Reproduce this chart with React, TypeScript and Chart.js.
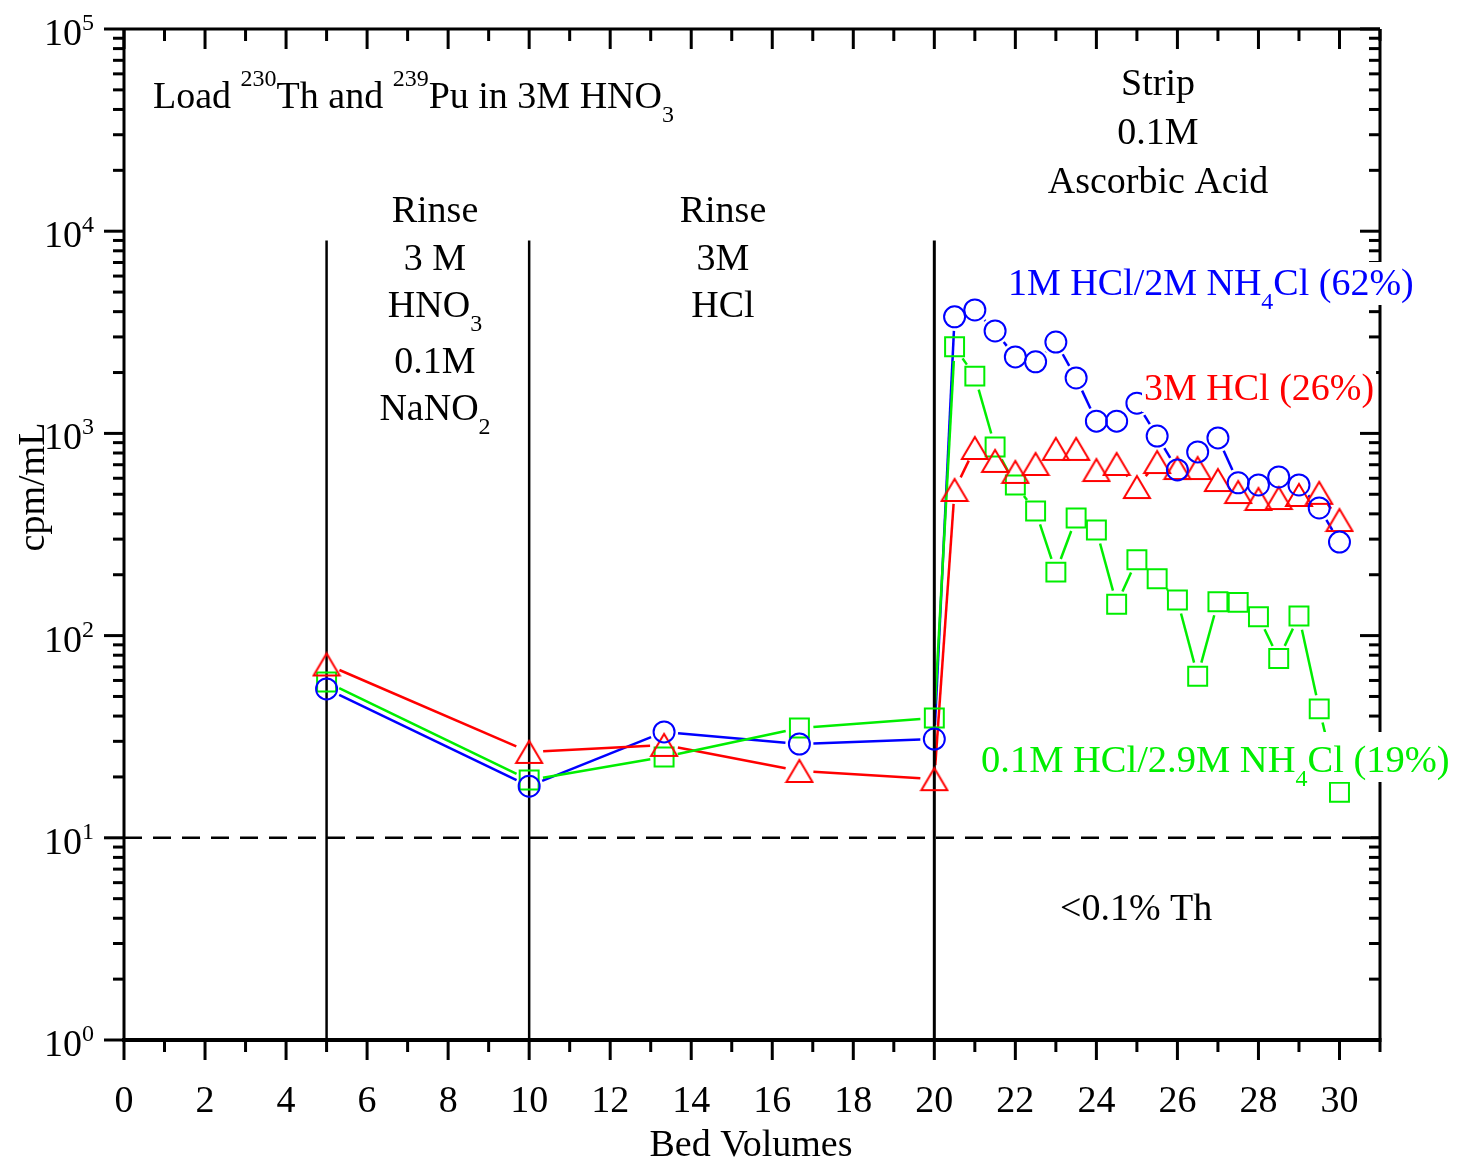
import { useEffect, useRef } from 'react';
import { Chart, registerables } from 'chart.js';

Chart.register(...registerables);

// Bed volumes at which each effluent fraction was counted
const bedVolumes = [5, 10, 13.33, 16.67, 20, 20.5, 21, 21.5, 22, 22.5, 23, 23.5, 24, 24.5, 25, 25.5, 26, 26.5, 27, 27.5, 28, 28.5, 29, 29.5, 30];

// Activity (cpm/mL) per fraction for each strip solution
const hclNh4clCpm = [54.5, 18.0, 33.4, 29.1, 30.8, 3770, 4080, 3210, 2390, 2260, 2830, 1880, 1150, 1150, 1410, 970, 660, 810, 950, 570, 556, 609, 556, 428, 290];
const hcl3mCpm = [72, 26.6, 28.8, 21.4, 19.5, 525, 847, 731, 645, 706, 838, 838, 659, 706, 543, 722, 674, 674, 588, 513, 474, 479, 496, 508, 373];
const dilHclNh4clCpm = [59, 19.3, 25.1, 34.9, 39.1, 2680, 1920, 857, 556, 413, 206, 382, 333, 143, 237, 191, 150, 63, 147, 146, 124, 77, 125, 43.4, 16.8];

// Stage boundaries (load | rinse | rinse | strip) and the Th detection limit
const stageBoundaries = [5, 10, 20];
const boundaryTop = 9000;
const detectionLimit = 10;

const xTickLabels = ['0', '2', '4', '6', '8', '10', '12', '14', '16', '18', '20', '22', '24', '26', '28', '30'];
const yDecades = [0, 1, 2, 3, 4, 5];

const BLUE = '#0000ff';
const RED = '#ff0000';
const GREEN = '#00ee00';
const FONT = '"Liberation Serif", "Times New Roman", serif';

type Run = { t: string; k?: 'sup' | 'sub' };

interface RichOpts {
  size: number;
  small: number;
  supDy: number;
  subDy: number;
  align: 'left' | 'center' | 'right';
  color: string;
  bg?: { up: number; down: number; pad: number };
}

function richWidth(ctx: CanvasRenderingContext2D, runs: Run[], o: RichOpts) {
  let w = 0;
  for (const r of runs) {
    ctx.font = `${r.k ? o.small : o.size}px ${FONT}`;
    w += ctx.measureText(r.t).width;
  }
  return w;
}

function drawRich(ctx: CanvasRenderingContext2D, runs: Run[], x: number, y: number, o: RichOpts) {
  const w = richWidth(ctx, runs, o);
  let cx = o.align === 'left' ? x : o.align === 'center' ? x - w / 2 : x - w;
  ctx.save();
  if (o.bg) {
    ctx.fillStyle = '#ffffff';
    ctx.fillRect(cx - o.bg.pad, y - o.bg.up, w + 2 * o.bg.pad, o.bg.up + o.bg.down);
  }
  ctx.fillStyle = o.color;
  ctx.textBaseline = 'alphabetic';
  ctx.textAlign = 'left';
  for (const r of runs) {
    ctx.font = `${r.k ? o.small : o.size}px ${FONT}`;
    const dy = r.k === 'sup' ? -o.supDy : r.k === 'sub' ? o.subDy : 0;
    ctx.fillText(r.t, cx, y + dy);
    cx += ctx.measureText(r.t).width;
  }
  ctx.restore();
}

const base: RichOpts = { size: 38, small: 24, supDy: 22, subDy: 14, align: 'center', color: '#000' };

function makeTriangle(color: string) {
  const c = document.createElement('canvas');
  c.width = 30;
  c.height = 26;
  const g = c.getContext('2d')!;
  g.strokeStyle = color;
  g.lineWidth = 2;
  g.lineJoin = 'miter';
  g.beginPath();
  g.moveTo(15, 2);
  g.lineTo(28, 24);
  g.lineTo(2, 24);
  g.closePath();
  g.stroke();
  return c;
}

// Connects markers with segments that stop short of each marker
const gapLines = {
  id: 'gapLines',
  beforeDatasetsDraw(chart: any) {
    const ctx: CanvasRenderingContext2D = chart.ctx;
    chart.data.datasets.forEach((ds: any, i: number) => {
      const gap = ds.gap;
      if (!gap) return;
      const pts = chart.getDatasetMeta(i).data;
      ctx.save();
      ctx.strokeStyle = ds.lineColor;
      ctx.lineWidth = 2.5;
      for (let j = 1; j < pts.length; j++) {
        const a = pts[j - 1];
        const b = pts[j];
        const dx = b.x - a.x;
        const dy = b.y - a.y;
        const len = Math.hypot(dx, dy);
        if (len <= 2 * gap) continue;
        const ux = dx / len;
        const uy = dy / len;
        ctx.beginPath();
        ctx.moveTo(a.x + ux * gap, a.y + uy * gap);
        ctx.lineTo(b.x - ux * gap, b.y - uy * gap);
        ctx.stroke();
      }
      ctx.restore();
    });
  },
};

// Frame, Origin-style ticks, axis labels and annotations
const decorations = {
  id: 'decorations',
  afterDatasetsDraw(chart: any) {
    const ctx: CanvasRenderingContext2D = chart.ctx;
    const { left, right, top, bottom } = chart.chartArea;
    const xs = chart.scales.x;
    const ys = chart.scales.y;
    const seg = (x1: number, y1: number, x2: number, y2: number) => {
      ctx.beginPath();
      ctx.moveTo(x1, y1);
      ctx.lineTo(x2, y2);
      ctx.stroke();
    };

    ctx.save();
    ctx.strokeStyle = '#000';
    ctx.lineCap = 'butt';
    ctx.lineWidth = 3;
    seg(left, top, right, top);
    seg(left, top, left, bottom);
    seg(right, top, right, bottom);
    ctx.lineWidth = 4;
    seg(left - 2, bottom, right + 1.5, bottom);

    ctx.lineWidth = 3;
    for (let v = 0; v <= 31; v++) {
      const px = xs.getPixelForValue(v);
      const len = v % 2 === 0 ? 20 : 12;
      seg(px, bottom, px, bottom + len);
      seg(px, top, px, top + len);
    }
    for (const d of yDecades) {
      for (let m = 1; m <= 9; m++) {
        const v = m * Math.pow(10, d);
        if (v > 1e5) break;
        const py = ys.getPixelForValue(v);
        const len = m === 1 ? 20 : 11;
        seg(left - len, py, left, py);
        seg(right - len, py, right, py);
      }
    }
    ctx.restore();

    // x tick labels and axis titles
    ctx.save();
    ctx.fillStyle = '#000';
    ctx.font = `38px ${FONT}`;
    ctx.textAlign = 'center';
    ctx.textBaseline = 'alphabetic';
    xTickLabels.forEach((lab) => {
      ctx.fillText(lab, xs.getPixelForValue(Number(lab)), bottom + 72);
    });
    ctx.fillText('Bed Volumes', (left + right) / 2 - 1, bottom + 116);
    ctx.translate(34, 487);
    ctx.rotate(-Math.PI / 2);
    ctx.textAlign = 'center';
    ctx.textBaseline = 'middle';
    ctx.fillText('cpm/mL', 0, 0);
    ctx.restore();

    // y tick labels as powers of ten
    for (const d of yDecades) {
      const py = ys.getPixelForValue(Math.pow(10, d));
      drawRich(ctx, [{ t: '10' }, { t: String(d), k: 'sup' }], 94, py + 16, {
        ...base,
        small: 24,
        supDy: 15,
        align: 'right',
      });
    }

    // stage annotations
    drawRich(
      ctx,
      [
        { t: 'Load ' },
        { t: '230', k: 'sup' },
        { t: 'Th and ' },
        { t: '239', k: 'sup' },
        { t: 'Pu in 3M HNO' },
        { t: '3', k: 'sub' },
      ],
      153,
      108,
      { ...base, align: 'left' }
    );
    const rinse1: Run[][] = [[{ t: 'Rinse' }], [{ t: '3 M' }], [{ t: 'HNO' }, { t: '3', k: 'sub' }], [{ t: '0.1M' }], [{ t: 'NaNO' }, { t: '2', k: 'sub' }]];
    const rinse1Y = [222, 270, 317, 373, 420];
    rinse1.forEach((runs, i) => drawRich(ctx, runs, 435, rinse1Y[i], base));
    const rinse2 = ['Rinse', '3M', 'HCl'];
    const rinse2Y = [222, 270, 317];
    rinse2.forEach((t, i) => drawRich(ctx, [{ t }], 723, rinse2Y[i], base));
    const strip = ['Strip', '0.1M', 'Ascorbic Acid'];
    const stripY = [95, 144, 193];
    strip.forEach((t, i) => drawRich(ctx, [{ t }], 1158, stripY[i], base));
    drawRich(ctx, [{ t: '<0.1% Th' }], 1060, 920, { ...base, align: 'left' });

    // series labels, on white so they sit above the marks and the frame
    drawRich(
      ctx,
      [{ t: '1M HCl/2M NH' }, { t: '4', k: 'sub' }, { t: 'Cl (62%)' }],
      1008,
      295,
      { ...base, align: 'left', color: BLUE, bg: { up: 33, down: 10, pad: 2 } }
    );
    drawRich(ctx, [{ t: '3M HCl (26%)' }], 1144, 400, {
      ...base,
      align: 'left',
      color: RED,
      bg: { up: 33, down: 12, pad: 2 },
    });
    drawRich(
      ctx,
      [{ t: '0.1M HCl/2.9M NH' }, { t: '4', k: 'sub' }, { t: 'Cl (19%)' }],
      981,
      772,
      { ...base, size: 38.5, align: 'left', color: GREEN, bg: { up: 40, down: 10, pad: 2 } }
    );
  },
};

export default function App() {
  const ref = useRef<HTMLCanvasElement>(null);

  useEffect(() => {
    const canvas = ref.current;
    if (!canvas) return;
    const triangle = makeTriangle(RED);
    const pts = (ys: number[]) => bedVolumes.map((x, i) => ({ x, y: ys[i] }));

    const series = [
      {
        label: '1M HCl/2M NH4Cl (62%)',
        data: pts(hclNh4clCpm),
        showLine: false,
        pointStyle: 'circle',
        pointRadius: 10.5,
        pointBorderWidth: 2,
        borderColor: BLUE,
        pointBorderColor: BLUE,
        pointBackgroundColor: 'rgba(0,0,0,0)',
        lineColor: BLUE,
        gap: 14,
      },
      {
        label: '3M HCl (26%)',
        data: pts(hcl3mCpm),
        showLine: false,
        pointStyle: triangle,
        pointRadius: 13,
        borderColor: RED,
        pointBorderColor: RED,
        pointBackgroundColor: 'rgba(0,0,0,0)',
        lineColor: RED,
        gap: 14,
      },
      {
        label: '0.1M HCl/2.9M NH4Cl (19%)',
        data: pts(dilHclNh4clCpm),
        showLine: false,
        pointStyle: 'rect',
        pointRadius: 13.4,
        pointBorderWidth: 2,
        borderColor: GREEN,
        pointBorderColor: GREEN,
        pointBackgroundColor: 'rgba(0,0,0,0)',
        lineColor: GREEN,
        gap: 14,
      },
    ];

    const boundaries = stageBoundaries.map((x, i) => ({
      label: `boundary ${i}`,
      data: [
        { x, y: 1 },
        { x, y: boundaryTop },
      ],
      showLine: true,
      borderColor: '#000',
      borderWidth: x === 20 ? 3 : 2.5,
      pointRadius: 0,
    }));

    const limit = {
      label: 'detection limit',
      data: [
        { x: 0, y: detectionLimit },
        { x: 31, y: detectionLimit },
      ],
      showLine: true,
      borderColor: '#000',
      borderWidth: 2.5,
      borderDash: [18, 11],
      pointRadius: 0,
    };

    const chart = new Chart(canvas, {
      type: 'scatter',
      data: { datasets: [...series, ...boundaries, limit] as any },
      options: {
        animation: false,
        responsive: false,
        devicePixelRatio: 1,
        layout: { padding: { left: 124, right: 83, top: 29, bottom: 124 } },
        plugins: { legend: { display: false }, tooltip: { enabled: false } },
        scales: {
          x: { type: 'linear', display: false, min: 0, max: 31 },
          y: { type: 'logarithmic', display: false, min: 1, max: 1e5 },
        },
      },
      plugins: [gapLines, decorations],
    });
    return () => chart.destroy();
  }, []);

  return (
    <div style={{ position: 'fixed', left: 0, top: 0, width: 1463, height: 1164, background: '#fff' }}>
      <canvas ref={ref} width={1463} height={1164} style={{ display: 'block', width: 1463, height: 1164 }} />
    </div>
  );
}
